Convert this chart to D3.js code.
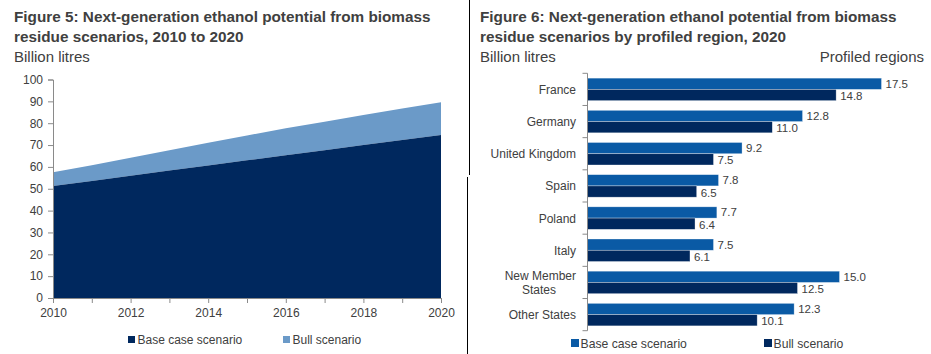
<!DOCTYPE html>
<html>
<head>
<meta charset="utf-8">
<script src="https://cdn.jsdelivr.net/npm/d3@7"></script>
<style>
  body { margin: 0; background: #fff; }
  svg { display: block; font-family: "Liberation Sans", Arial, sans-serif; }
</style>
</head>
<body>
<svg id="chart" width="931" height="354"></svg>
<script>
// figure 5 - stacked area, billion litres
const years = [2010, 2011, 2012, 2013, 2014, 2015, 2016, 2017, 2018, 2019, 2020];
const baseCase = [51.3, 53.6, 56.0, 58.3, 60.6, 63.0, 65.3, 67.6, 70.0, 72.3, 74.6];
const bullCase = [57.5, 60.8, 64.2, 67.6, 71.0, 74.4, 77.7, 80.7, 83.7, 86.7, 89.6];
const yTicks = [0, 10, 20, 30, 40, 50, 60, 70, 80, 90, 100];
const xTickLabels = [2010, 2012, 2014, 2016, 2018, 2020];

// figure 6 - grouped bars, 2020
const regions = ["France", "Germany", "United Kingdom", "Spain", "Poland", "Italy", "New Member States", "Other States"];
const regionBase = [17.5, 12.8, 9.2, 7.8, 7.7, 7.5, 15.0, 12.3];
const regionBull = [14.8, 11.0, 7.5, 6.5, 6.4, 6.1, 12.5, 10.1];

const navy = "#00285e";
const lightBlue = "#6b9ac8";
const midBlue = "#0a5aa5";
const textCol = "#404040";
const axisCol = "#8a8a8a";

const svg = d3.select("#chart");

// divider lines between the two panels
svg.append("line").attr("x1", 469.5).attr("x2", 469.5).attr("y1", 0).attr("y2", 175)
  .attr("stroke", "#000").attr("stroke-width", 1);
svg.append("line").attr("x1", 467.5).attr("x2", 467.5).attr("y1", 177).attr("y2", 354)
  .attr("stroke", "#000").attr("stroke-width", 1);

const addTitle = (x, lines, right) => {
  const t = svg.append("g").attr("fill", textCol);
  lines.forEach((l, i) => {
    t.append("text").attr("x", x).attr("y", 22 + i * 19.5)
      .attr("font-size", 15.3).attr("font-weight", "bold").text(l);
  });
  t.append("text").attr("x", x).attr("y", 61.5).attr("font-size", 15).text("Billion litres");
  if (right) {
    t.append("text").attr("x", 924).attr("y", 61.5).attr("text-anchor", "end")
      .attr("font-size", 15).text(right);
  }
};

addTitle(14, ["Figure 5: Next-generation ethanol potential from biomass", "residue scenarios, 2010 to 2020"]);
addTitle(480, ["Figure 6: Next-generation ethanol potential from biomass", "residue scenarios by profiled region, 2020"], "Profiled regions");

// ---------- left: area chart ----------
const xScale = d3.scaleLinear().domain([2010, 2020]).range([53, 441]);
const yScale = d3.scaleLinear().domain([0, 100]).range([298, 79.5]);

const rows = years.map((y, i) => ({ year: y, base: baseCase[i], bull: bullCase[i] }));

svg.append("path").datum(rows)
  .attr("fill", lightBlue)
  .attr("d", d3.area().x((d) => xScale(d.year)).y0((d) => yScale(d.base)).y1((d) => yScale(d.bull)));

svg.append("path").datum(rows)
  .attr("fill", navy)
  .attr("d", d3.area().x((d) => xScale(d.year)).y0(yScale(0)).y1((d) => yScale(d.base)));

const gY = svg.append("g").attr("transform", "translate(53,0)")
  .call(d3.axisLeft(yScale).tickValues(yTicks).tickSize(5).tickPadding(5));
const gX = svg.append("g").attr("transform", "translate(0,298)")
  .call(d3.axisBottom(xScale).tickValues(years).tickSize(5).tickPadding(5)
    .tickFormat((d) => (xTickLabels.includes(d) ? d : "")));

[gY, gX].forEach((g) => {
  g.select(".domain").attr("stroke", axisCol);
  g.selectAll(".tick line").attr("stroke", axisCol);
  g.selectAll(".tick text").attr("fill", textCol).attr("font-size", 12)
    .attr("font-family", "Liberation Sans, Arial, sans-serif");
});

// legend left
const legL = [
  { label: "Base case scenario", color: navy, x: 128 },
  { label: "Bull scenario", color: lightBlue, x: 283 },
];
legL.forEach((l) => {
  svg.append("rect").attr("x", l.x).attr("y", 336).attr("width", 7).attr("height", 7).attr("fill", l.color);
  svg.append("text").attr("x", l.x + 9.5).attr("y", 344).attr("font-size", 12)
    .attr("fill", textCol).text(l.label);
});

// ---------- right: grouped bar chart ----------
const xBar = d3.scaleLinear().domain([0, 20]).range([587.5, 923.5]);
const yBand = d3.scaleBand().domain(regions).range([73.3, 330.7]).paddingInner(0.3).paddingOuter(0.15);
const ySub = d3.scaleBand().domain(["base", "bull"]).range([0, yBand.bandwidth()]);

const barRows = regions.map((r, i) => ({ region: r, base: regionBase[i], bull: regionBull[i] }));

const groups = svg.append("g").selectAll("g").data(barRows).enter().append("g")
  .attr("transform", (d) => "translate(0," + yBand(d.region) + ")");

[["base", midBlue], ["bull", navy]].forEach(([key, color]) => {
  groups.append("rect")
    .attr("x", xBar(0))
    .attr("y", ySub(key))
    .attr("width", (d) => xBar(d[key]) - xBar(0))
    .attr("height", ySub.bandwidth())
    .attr("fill", color)
    .attr("stroke", "rgba(255,255,255,0.55)")
    .attr("stroke-width", 0.6);
  groups.append("text")
    .attr("x", (d) => xBar(d[key]) + 4)
    .attr("y", ySub(key) + ySub.bandwidth() / 2 + (key === "bull" ? 5 : 4))
    .attr("font-size", 11.5)
    .attr("fill", textCol)
    .text((d) => d3.format(".1f")(d[key]));
});

// category axis
const step = yBand.step();
const bandTicks = regions.map((r) => yBand(r) - (step * 0.3) / 2).concat([330.7]);
const axisR = svg.append("g");
axisR.append("line").attr("x1", 587.5).attr("x2", 587.5).attr("y1", 73.3).attr("y2", 330.7)
  .attr("stroke", axisCol);
axisR.selectAll(".tk").data(bandTicks).enter().append("line")
  .attr("x1", 582.5).attr("x2", 587.5)
  .attr("y1", (d) => d).attr("y2", (d) => d)
  .attr("stroke", axisCol);

const catLabels = svg.append("g").attr("fill", textCol).attr("font-size", 12).attr("text-anchor", "end");
regions.forEach((r) => {
  const cy = yBand(r) + yBand.bandwidth() / 2;
  if (r === "New Member States") {
    const t = catLabels.append("text").attr("x", 576).attr("y", cy - 2);
    t.append("tspan").attr("x", 576).text("New Member");
    t.append("tspan").attr("x", 556).attr("dy", 14).text("States");
  } else {
    catLabels.append("text").attr("x", 576).attr("y", cy + 4.5).text(r);
  }
});

// legend right
const legR = [
  { label: "Base case scenario", color: midBlue, x: 571 },
  { label: "Bull scenario", color: navy, x: 764 },
];
legR.forEach((l) => {
  svg.append("rect").attr("x", l.x).attr("y", 339).attr("width", 8).attr("height", 8).attr("fill", l.color);
  svg.append("text").attr("x", l.x + 9.5).attr("y", 348).attr("font-size", 12.2)
    .attr("fill", textCol).text(l.label);
});
</script>
</body>
</html>
